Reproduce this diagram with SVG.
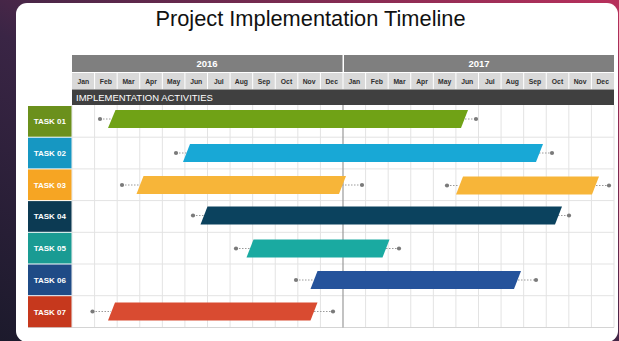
<svg xmlns="http://www.w3.org/2000/svg" width="619" height="341" viewBox="0 0 619 341">
  <defs>
    <linearGradient id="bg" x1="0" y1="1" x2="1" y2="0">
      <stop offset="0" stop-color="#1c1a2c"/>
      <stop offset="0.45" stop-color="#3a2545"/>
      <stop offset="1" stop-color="#b8305c"/>
    </linearGradient>
    <style>
      .title{font-family:"Liberation Sans",Arial,sans-serif;font-size:21.8px;fill:#111}
      .year{font-family:"Liberation Sans",Arial,sans-serif;font-size:9.5px;font-weight:bold;fill:#fff}
      .mon{font-family:"Liberation Sans",Arial,sans-serif;font-size:6.8px;font-weight:bold;fill:#2e2e2e}
      .act{font-family:"Liberation Sans",Arial,sans-serif;font-size:9.5px;fill:#fff}
      .task{font-family:"Liberation Sans",Arial,sans-serif;font-size:8px;font-weight:bold;fill:#fff}
      .grid{stroke:#e3e3e3;stroke-width:1}
      .mid{stroke:#9a9a9a;stroke-width:1.2}
      .sep{stroke:#fff;stroke-width:1}
      .link{stroke:#9a9a9a;stroke-width:1;stroke-dasharray:1.5 1.5;fill:none}
      .dot{fill:#7a7a7a}
    </style>
  </defs>

  <!-- backdrop and white sheet -->
  <rect x="0" y="0" width="619" height="341" fill="url(#bg)"/>
  <rect x="16" y="3" width="602" height="339" rx="11" fill="#fff"/>

  <text class="title" x="310.5" y="26" text-anchor="middle">Project Implementation Timeline</text>

  <!-- header: years -->
  <g id="years">
    <rect x="72" y="55" width="270.5" height="17" fill="#7f7f7f"/>
    <rect x="344" y="55" width="270" height="17" fill="#7f7f7f"/>
    <text class="year" x="207" y="66.7" text-anchor="middle">2016</text>
    <text class="year" x="479" y="66.7" text-anchor="middle">2017</text>
  </g>

  <!-- header: months -->
  <g id="months">
    <rect x="72" y="73" width="542" height="16.5" fill="#d9d9d9"/>
    <g class="sep">
      <line x1="94.58" y1="73" x2="94.58" y2="89.5"/><line x1="117.17" y1="73" x2="117.17" y2="89.5"/>
      <line x1="139.75" y1="73" x2="139.75" y2="89.5"/><line x1="162.33" y1="73" x2="162.33" y2="89.5"/>
      <line x1="184.92" y1="73" x2="184.92" y2="89.5"/><line x1="207.5" y1="73" x2="207.5" y2="89.5"/>
      <line x1="230.08" y1="73" x2="230.08" y2="89.5"/><line x1="252.67" y1="73" x2="252.67" y2="89.5"/>
      <line x1="275.25" y1="73" x2="275.25" y2="89.5"/><line x1="297.83" y1="73" x2="297.83" y2="89.5"/>
      <line x1="320.42" y1="73" x2="320.42" y2="89.5"/><line x1="343" y1="73" x2="343" y2="89.5"/>
      <line x1="365.58" y1="73" x2="365.58" y2="89.5"/><line x1="388.17" y1="73" x2="388.17" y2="89.5"/>
      <line x1="410.75" y1="73" x2="410.75" y2="89.5"/><line x1="433.33" y1="73" x2="433.33" y2="89.5"/>
      <line x1="455.92" y1="73" x2="455.92" y2="89.5"/><line x1="478.5" y1="73" x2="478.5" y2="89.5"/>
      <line x1="501.08" y1="73" x2="501.08" y2="89.5"/><line x1="523.67" y1="73" x2="523.67" y2="89.5"/>
      <line x1="546.25" y1="73" x2="546.25" y2="89.5"/><line x1="568.83" y1="73" x2="568.83" y2="89.5"/>
      <line x1="591.42" y1="73" x2="591.42" y2="89.5"/>
    </g>
    <g class="mon" text-anchor="middle">
      <text x="83.3" y="83.5">Jan</text><text x="105.9" y="83.5">Feb</text><text x="128.5" y="83.5">Mar</text>
      <text x="151" y="83.5">Apr</text><text x="173.6" y="83.5">May</text><text x="196.2" y="83.5">Jun</text>
      <text x="218.8" y="83.5">Jul</text><text x="241.4" y="83.5">Aug</text><text x="264" y="83.5">Sep</text>
      <text x="286.5" y="83.5">Oct</text><text x="309.1" y="83.5">Nov</text><text x="331.7" y="83.5">Dec</text>
      <text x="354.3" y="83.5">Jan</text><text x="376.9" y="83.5">Feb</text><text x="399.5" y="83.5">Mar</text>
      <text x="422" y="83.5">Apr</text><text x="444.6" y="83.5">May</text><text x="467.2" y="83.5">Jun</text>
      <text x="489.8" y="83.5">Jul</text><text x="512.4" y="83.5">Aug</text><text x="535" y="83.5">Sep</text>
      <text x="557.5" y="83.5">Oct</text><text x="580.1" y="83.5">Nov</text><text x="602.7" y="83.5">Dec</text>
    </g>
  </g>

  <!-- activities banner -->
  <g id="activities">
    <rect x="72" y="89.5" width="542" height="15.5" fill="#404040"/>
    <text class="act" x="76" y="100.8">IMPLEMENTATION ACTIVITIES</text>
  </g>

  <!-- chart grid -->
  <g id="grid">
    <g class="grid">
      <line x1="72" y1="105" x2="72" y2="327.5"/><line x1="94.58" y1="105" x2="94.58" y2="327.5"/>
      <line x1="117.17" y1="105" x2="117.17" y2="327.5"/><line x1="139.75" y1="105" x2="139.75" y2="327.5"/>
      <line x1="162.33" y1="105" x2="162.33" y2="327.5"/><line x1="184.92" y1="105" x2="184.92" y2="327.5"/>
      <line x1="207.5" y1="105" x2="207.5" y2="327.5"/><line x1="230.08" y1="105" x2="230.08" y2="327.5"/>
      <line x1="252.67" y1="105" x2="252.67" y2="327.5"/><line x1="275.25" y1="105" x2="275.25" y2="327.5"/>
      <line x1="297.83" y1="105" x2="297.83" y2="327.5"/><line x1="320.42" y1="105" x2="320.42" y2="327.5"/>
      <line x1="365.58" y1="105" x2="365.58" y2="327.5"/><line x1="388.17" y1="105" x2="388.17" y2="327.5"/>
      <line x1="410.75" y1="105" x2="410.75" y2="327.5"/><line x1="433.33" y1="105" x2="433.33" y2="327.5"/>
      <line x1="455.92" y1="105" x2="455.92" y2="327.5"/><line x1="478.5" y1="105" x2="478.5" y2="327.5"/>
      <line x1="501.08" y1="105" x2="501.08" y2="327.5"/><line x1="523.67" y1="105" x2="523.67" y2="327.5"/>
      <line x1="546.25" y1="105" x2="546.25" y2="327.5"/><line x1="568.83" y1="105" x2="568.83" y2="327.5"/>
      <line x1="591.42" y1="105" x2="591.42" y2="327.5"/><line x1="614" y1="105" x2="614" y2="327.5"/>
      <line x1="72" y1="137.2" x2="614" y2="137.2"/><line x1="72" y1="168.9" x2="614" y2="168.9"/>
      <line x1="72" y1="200.6" x2="614" y2="200.6"/><line x1="72" y1="232.3" x2="614" y2="232.3"/>
      <line x1="72" y1="264" x2="614" y2="264"/><line x1="72" y1="295.7" x2="614" y2="295.7"/>
    </g>
    <line x1="28" y1="327.5" x2="614" y2="327.5" stroke="#d4d4d4" stroke-width="1.2"/>
    <line class="mid" x1="343" y1="105" x2="343" y2="327.5"/>
  </g>

  <!-- task labels -->
  <g id="task01"><rect x="28" y="106" width="43.5" height="30.7" fill="#6b901c"/><text class="task" x="49.8" y="124.3" text-anchor="middle">TASK 01</text></g>
  <g id="task02"><rect x="28" y="137.7" width="43.5" height="30.7" fill="#1697c2"/><text class="task" x="49.8" y="156" text-anchor="middle">TASK 02</text></g>
  <g id="task03"><rect x="28" y="169.4" width="43.5" height="30.7" fill="#f6a523"/><text class="task" x="49.8" y="187.7" text-anchor="middle">TASK 03</text></g>
  <g id="task04"><rect x="28" y="201.1" width="43.5" height="30.7" fill="#0c3a53"/><text class="task" x="49.8" y="219.4" text-anchor="middle">TASK 04</text></g>
  <g id="task05"><rect x="28" y="232.8" width="43.5" height="30.7" fill="#1a9b93"/><text class="task" x="49.8" y="251.1" text-anchor="middle">TASK 05</text></g>
  <g id="task06"><rect x="28" y="264.5" width="43.5" height="30.7" fill="#1f4b86"/><text class="task" x="49.8" y="282.8" text-anchor="middle">TASK 06</text></g>
  <g id="task07"><rect x="28" y="296.2" width="43.5" height="31" fill="#c6381d"/><text class="task" x="49.8" y="314.6" text-anchor="middle">TASK 07</text></g>

  <!-- dotted leaders from milestone dots to bars -->
  <g id="connectors">
    <path class="link" d="M100 119H112M465 119H476"/>
    <path class="link" d="M176 153H187M539 153H552"/>
    <path class="link" d="M122 185H140M342 185H362"/>
    <path class="link" d="M447 185.5H459M596 185.5H609"/>
    <path class="link" d="M193 215.5H204M558 215.5H569"/>
    <path class="link" d="M236 248.5H250M386 248.5H399"/>
    <path class="link" d="M296 280H314M518 280H536"/>
    <path class="link" d="M92.5 311.5H111M314 311.5H333"/>
    <g class="dot">
      <circle cx="100" cy="119" r="2.1"/><circle cx="476" cy="119" r="2.1"/>
      <circle cx="176" cy="153" r="2.1"/><circle cx="552" cy="153" r="2.1"/>
      <circle cx="122" cy="185" r="2.1"/><circle cx="362" cy="185" r="2.1"/>
      <circle cx="447" cy="185.5" r="2.1"/><circle cx="609" cy="185.5" r="2.1"/>
      <circle cx="193" cy="215.5" r="2.1"/><circle cx="569" cy="215.5" r="2.1"/>
      <circle cx="236" cy="248.5" r="2.1"/><circle cx="399" cy="248.5" r="2.1"/>
      <circle cx="296" cy="280" r="2.1"/><circle cx="536" cy="280" r="2.1"/>
      <circle cx="92.5" cy="311.5" r="2.1"/><circle cx="333" cy="311.5" r="2.1"/>
    </g>
  </g>

  <!-- activity bars -->
  <g id="bar01"><polygon points="115.5,110 468,110 461,128 108,128" fill="#70a216"/></g>
  <g id="bar02"><polygon points="190,144 543,144 536,162 183,162" fill="#18a8d6"/></g>
  <g id="bar03a"><polygon points="143.5,176 346,176 339,194 136.5,194" fill="#f7b539"/></g>
  <g id="bar03b"><polygon points="463,176.5 599,176.5 592,194.5 456,194.5" fill="#f7b539"/></g>
  <g id="bar04"><polygon points="207.5,206.5 562,206.5 555,224.5 200.5,224.5" fill="#0b425e"/></g>
  <g id="bar05"><polygon points="253.5,239.5 389.5,239.5 382.5,257.5 246.5,257.5" fill="#1aaaa1"/></g>
  <g id="bar06"><polygon points="317.5,271 521,271 514,289 310.5,289" fill="#25539b"/></g>
  <g id="bar07"><polygon points="115,302.5 317.5,302.5 310.5,320.5 108,320.5" fill="#d94b31"/></g>
</svg>
